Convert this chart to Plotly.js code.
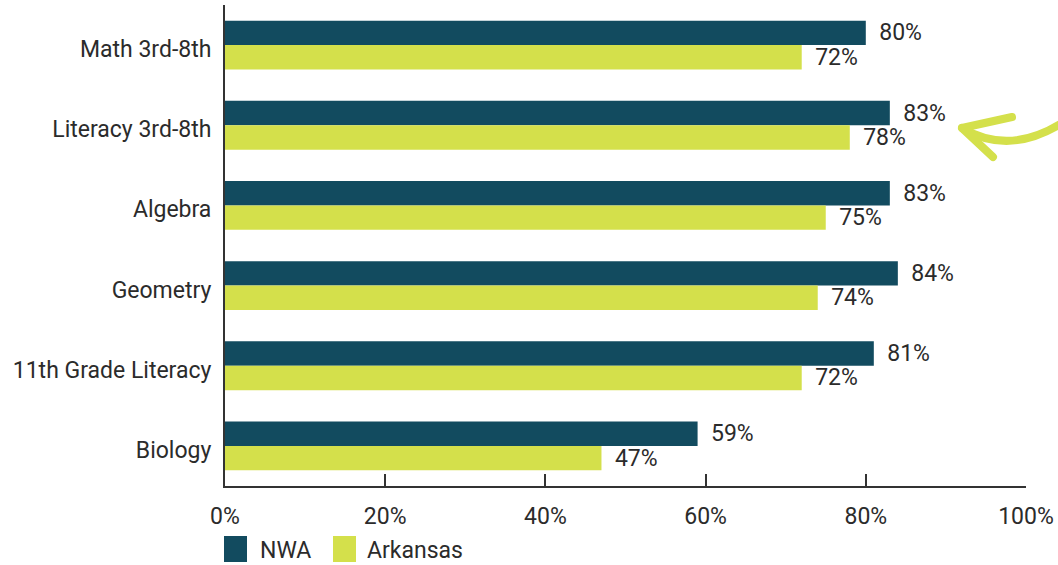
<!DOCTYPE html>
<html><head><meta charset="utf-8">
<script src="https://cdn.plot.ly/plotly-3.0.1.min.js"></script>
<style>html,body{margin:0;padding:0;background:#fff;}</style>
</head><body>
<div id="chart" style="width:1058px;height:565px;"></div>
<script>
const categories = ["Math 3rd-8th","Literacy 3rd-8th","Algebra","Geometry","11th Grade Literacy","Biology"];
const nwa = [80,83,83,84,81,59];
const arkansas = [72,78,75,74,72,47];
const seriesNames = ["NWA","Arkansas"];
const xTickVals = [0,20,40,60,80,100];
const xTickText = ["0%","20%","40%","60%","80%","100%"];

const C1 = "#124b5f", C2 = "#d4e04b", TXT = "#2b2b2b";
const FONT = "Roboto, sans-serif";
const FS = 23;
const lbl = v => v.map(d => "\u00a0\u2009" + d + "%");

const traces = [
  {type:"bar", orientation:"h", name:seriesNames[0], y:categories, x:nwa, marker:{color:C1},
   text:lbl(nwa), textposition:"outside", constraintext:"none", textfont:{size:FS,color:TXT,family:FONT}, cliponaxis:false, showlegend:false, hoverinfo:"x"},
  {type:"bar", orientation:"h", name:seriesNames[1], y:categories, x:arkansas, marker:{color:C2},
   text:lbl(arkansas), textposition:"outside", constraintext:"none", textfont:{size:FS,color:TXT,family:FONT}, cliponaxis:false, showlegend:false, hoverinfo:"x"}
];

function px(x){return (x-225)/801;}
function py(y){return (486-y)/481;}

const shapes = [
  {type:"path", xref:"paper", yref:"paper",
   path:`M${px(962)},${py(128)} Q${px(1009)},${py(156)} ${px(1062)},${py(123)}`,
   line:{color:C2,width:8}},
  {type:"path", xref:"paper", yref:"paper",
   path:`M${px(1012)},${py(117)} L${px(962)},${py(128)} L${px(993)},${py(157)}`,
   line:{color:C2,width:8}},
  {type:"rect", xref:"paper", yref:"paper", x0:px(224), x1:px(247), y0:py(536), y1:py(562), fillcolor:C1, line:{width:0}},
  {type:"rect", xref:"paper", yref:"paper", x0:px(333), x1:px(356), y0:py(536), y1:py(562), fillcolor:C2, line:{width:0}}
];

const annotations = [
  {xref:"paper", yref:"paper", x:px(258), y:py(550), xanchor:"left", yanchor:"middle", text:seriesNames[0], showarrow:false, font:{size:FS,color:TXT,family:FONT}},
  {xref:"paper", yref:"paper", x:px(365), y:py(550), xanchor:"left", yanchor:"middle", text:seriesNames[1], showarrow:false, font:{size:FS,color:TXT,family:FONT}}
];

const layout = {
  width:1058, height:565,
  margin:{l:225, r:32, t:5, b:79},
  paper_bgcolor:"#fff", plot_bgcolor:"#fff",
  font:{family:FONT, size:FS, color:TXT},
  barmode:"group", bargap:0.39, bargroupgap:0,
  showlegend:false,
  xaxis:{range:[0,100], tickvals:xTickVals, ticktext:xTickText, showgrid:false, zeroline:false,
         showline:true, linecolor:"#333", linewidth:2, ticks:"inside", ticklen:12, tickwidth:2, tickcolor:"#333",
         ticklabelstandoff:8, tickfont:{size:FS,color:TXT}, fixedrange:true},
  yaxis:{categoryorder:"array", categoryarray:categories, range:[5.5,-0.5], showgrid:false, zeroline:false,
         showline:true, linecolor:"#333", linewidth:2, ticks:"", ticklabelstandoff:7, tickfont:{size:FS,color:TXT}, fixedrange:true},
  shapes:shapes, annotations:annotations
};

Plotly.newPlot("chart", traces, layout, {displayModeBar:false, staticPlot:true}).then(()=>{
  document.querySelectorAll(".shapelayer path").forEach(p=>{p.style.strokeLinecap="round";p.style.strokeLinejoin="round";});
  const yl = document.querySelector(".yaxislayer-above");
  if (yl) yl.setAttribute("transform","translate(0,4)");
});
</script>
</body></html>
